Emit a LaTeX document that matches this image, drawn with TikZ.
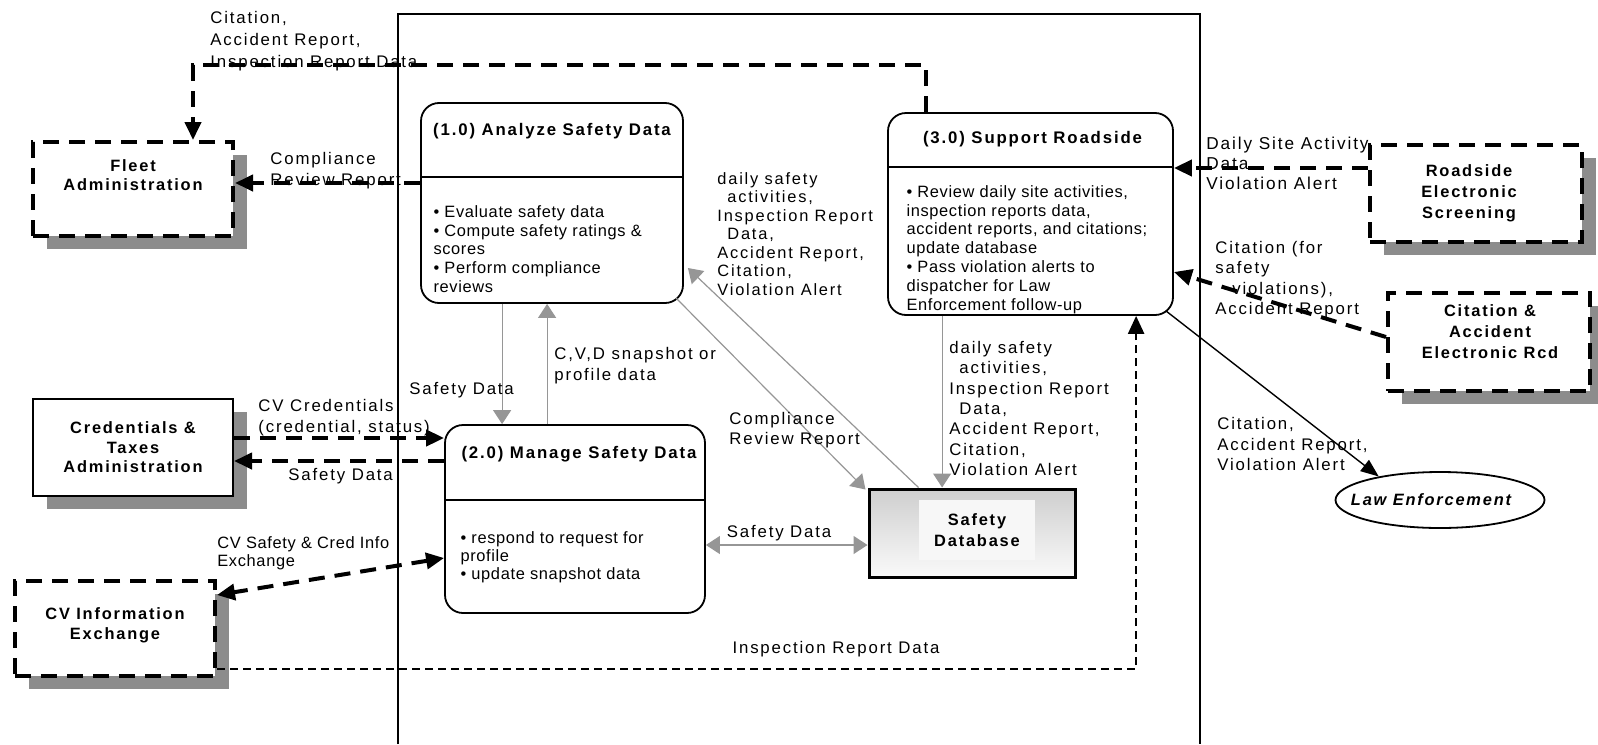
\documentclass[tikz,border=0pt]{standalone}
\usepackage{fontspec}
\setmainfont{Liberation Sans}[LetterSpace=11]
\newfontfamily\tightsans{Liberation Sans}[LetterSpace=4]
\usetikzlibrary{arrows.meta,calc,shapes.geometric,shadows}

\definecolor{shadowgray}{RGB}{140,140,140}
\definecolor{flowgray}{RGB}{150,150,150}

\tikzset{
  blk/.tip={Triangle[length=9pt,width=8pt]},
  gtip/.tip={Triangle[length=7pt,width=9pt]},
  ltip/.tip={Triangle[length=9pt,width=7pt]},
}

\begin{document}
\begin{tikzpicture}[x=0.5pt, y=-0.5pt,
  every node/.style={inner sep=0pt},
  lbl/.style={font=\fontsize{8.4}{10.2}\selectfont, align=left, anchor=north west},
  title/.style={font=\bfseries\fontsize{8.4}{10}\selectfont, align=center},
  bullets/.style={font=\tightsans\fontsize{8.2}{9.4}\selectfont, align=left, anchor=north west},
  entitytext/.style={font=\bfseries\fontsize{8.2}{9.8}\selectfont, align=center},
  shadowed/.style={drop shadow={shadow xshift=7pt, shadow yshift=-6.5pt, fill=shadowgray, opacity=1}},
  dashbox/.style={draw, fill=white, line width=2pt, dash pattern=on 8pt off 5pt, shadowed},
  solidbox/.style={draw, fill=white, line width=1pt, shadowed},
  procbox/.style={draw, fill=white, line width=0.9pt, rounded corners=9pt},
  flowdash/.style={line width=2pt, dash pattern=on 8pt off 5pt, -blk},
  thindash/.style={line width=1.2pt, dash pattern=on 4pt off 2.5pt, -blk},
  grayflow/.style={draw=flowgray, line width=0.6pt, -gtip},
  lawline/.style={line width=0.7pt, -ltip},
]
\useasboundingbox (0,0) rectangle (1598,744);

% system boundary (open at the bottom edge)
\draw[line width=0.8pt] (398,744) |- (1200,14) -- (1200,744);

% external entities
\node[dashbox, minimum width=100pt, minimum height=47pt] (fleet) at (133,189) {};
\node[entitytext, font=\bfseries\fontsize{8.2}{9.5}\selectfont] (fleettext) at (133,175) {Fleet\\Administration};

\node[solidbox, minimum width=100pt, minimum height=48.5pt] (cred) at (133,447.5) {};
\node[entitytext] (credtext) at (133,447.5) {Credentials \&\\Taxes\\Administration};

\node[dashbox, minimum width=100pt, minimum height=47.5pt] (cv) at (115,628.5) {};
\node[entitytext] (cvtext) at (115,625) {CV Information\\Exchange};

\node[dashbox, minimum width=106pt, minimum height=48.5pt] (road) at (1476,193.5) {};
\node[entitytext, font=\bfseries\fontsize{8.2}{10.5}\selectfont] (roadtext) at (1469,193) {Roadside\\Electronic\\Screening};

\node[dashbox, minimum width=101pt, minimum height=49pt] (cit) at (1489,342) {};
\node[entitytext, font=\bfseries\fontsize{8.2}{10.5}\selectfont] (cittext) at (1490,332) {Citation \&\\Accident\\Electronic Rcd};

\node[draw, ellipse, line width=0.9pt, minimum width=104.5pt, minimum height=28pt] (law) at (1440,500) {};
\node[font=\bfseries\itshape\fontsize{8.2}{10}\selectfont] (lawtext) at (1431,500) {Law Enforcement};

% data store
\node[draw, line width=1.5pt, top color=gray!38, bottom color=gray!4,
      minimum width=103pt, minimum height=44pt] (db) at (972,533) {};
\node[entitytext, font=\bfseries\fontsize{8.2}{10.5}\selectfont, fill=gray!6,
      minimum width=58pt, minimum height=30pt] (dbtext) at (977,530) {Safety\\Database};

% processes
\node[procbox, minimum width=131pt, minimum height=100pt] (p1) at (552,203) {};
\draw[line width=0.9pt] ($(p1.north west)+(0,75)$) -- ($(p1.north east)+(0,75)$);
\node[title] (p1title) at ($(p1.north)+(0,29)$) {(1.0) Analyze Safety Data};
\node[bullets] (p1text) at ($(p1.north west)+(13,103)$)
  {• Evaluate safety data\\• Compute safety ratings \&\\scores\\• Perform compliance\\reviews};

\node[procbox, minimum width=130pt, minimum height=94pt] (p2) at (575,519) {};
\draw[line width=0.9pt] ($(p2.north west)+(0,76)$) -- ($(p2.north east)+(0,76)$);
\node[title] (p2title) at ($(p2.north)+(4,30)$) {(2.0) Manage Safety Data};
\node[bullets, font=\tightsans\fontsize{8.2}{9}\selectfont] (p2text) at ($(p2.north west)+(16,107)$)
  {• respond to request for\\profile\\• update snapshot data};

\node[procbox, minimum width=142.5pt, minimum height=101pt] (p3) at (1030.5,214) {};
\draw[line width=0.9pt] ($(p3.north west)+(0,55)$) -- ($(p3.north east)+(0,55)$);
\node[title] (p3title) at ($(p3.north)+(2,27)$) {(3.0) Support Roadside};
\node[bullets] (p3text) at ($(p3.north west)+(19,73)$)
  {• Review daily site activities,\\inspection reports data,\\accident reports, and citations;\\update database\\• Pass violation alerts to\\dispatcher for Law\\Enforcement follow-up};

% external flows
\draw[flowdash] ($(p3.north west)+(39,0)$) -- ++(0,-47) -| ($(fleet.north west)+(162,0)$);
\draw[flowdash] ($(p1.west)+(0,-20)$) coordinate (crr) -- (fleet.east |- crr);
\draw[flowdash] ($(road.west)+(0,-25.5)$) coordinate (dsa) -- (p3.east |- dsa);
\draw[flowdash] ($(cit.west)+(0,-5)$) -- ($(p3.east)+(0,58)$);
\draw[lawline] ($(p3.south east)+(-8,-5)$) -- (law.159);
\draw[flowdash] ($(cred.east)+(0,-9.5)$) coordinate (cvc) -- (p2.west |- cvc);
\draw[flowdash] ($(p2.west)+(0,-58)$) coordinate (sdc) -- (cred.east |- sdc);
\draw[flowdash, blk-blk] ($(p2.west)+(0,39)$) -- ($(cv.north east)+(0,16)$);
\draw[thindash] ($(cv.south east)+(0,-9)$) -| ($(p3.south west)+(249,0)$);

% internal flows
\draw[grayflow] ($(p3.south west)+(55,0)$) coordinate (dsd) -- (db.north -| dsd);
\draw[grayflow] ($(db.north west)+(51,0)$) -- ($(p1.east)+(4,65)$);
\draw[grayflow] ($(p1.south east)+(-8,-6)$) -- ($(db.north west)+(-2,2)$);
\draw[grayflow] ($(p1.south west)+(82,0)$) coordinate (sdd) -- (p2.north -| sdd);
\draw[grayflow] ($(p2.north west)+(103,0)$) coordinate (cvd) -- (p1.south -| cvd);
\draw[grayflow, gtip-gtip] ($(p2.east)+(0,26)$) coordinate (sdh) -- (db.west |- sdh);

% flow labels
\node[lbl, font=\fontsize{8.4}{11}\selectfont] (lcar) at (210,11) {Citation,\\Accident Report,\\Inspection Report Data};
\node[lbl, font=\fontsize{8.4}{10.5}\selectfont] (lcrr) at (270,152) {Compliance\\Review Report};
\node[lbl, font=\fontsize{8.2}{9.25}\selectfont] (ldsa) at (717,172)
  {daily safety\\\hspace*{5pt}activities,\\Inspection Report\\\hspace*{5pt}Data,\\Accident Report,\\Citation,\\Violation Alert};
\node[lbl, font=\fontsize{8.4}{10.15}\selectfont] (ldsb) at (949,341)
  {daily safety\\\hspace*{5pt}activities,\\Inspection Report\\\hspace*{5pt}Data,\\Accident Report,\\Citation,\\Violation Alert};
\node[lbl, font=\fontsize{8.6}{10}\selectfont] (lsite) at (1206,137) {Daily Site Activity\\Data\\Violation Alert};
\node[lbl] (lcfs) at (1215,241) {Citation (for\\safety\\\hspace*{8.5pt}violations),\\Accident Report};
\node[lbl, font=\fontsize{8.4}{10.25}\selectfont] (llaw) at (1217,417) {Citation,\\Accident Report,\\Violation Alert};
\node[lbl, anchor=base west] (lsdv) at (409,394) {Safety Data};
\node[lbl, font=\fontsize{8.4}{10.5}\selectfont] (lcvd) at (554,347) {C,V,D snapshot or\\profile data};
\node[lbl, font=\fontsize{8.4}{10}\selectfont] (lcrg) at (729,412) {Compliance\\Review Report};
\node[lbl, font=\fontsize{8.4}{10.5}\selectfont] (lcvc) at (258,399) {CV Credentials\\(credential, status)};
\node[lbl, anchor=base west] (lsdc) at (288,480) {Safety Data};
\node[lbl, font=\tightsans\fontsize{8.2}{9}\selectfont] (lcvx) at (217,536) {CV Safety \& Cred Info\\Exchange};
\node[lbl, anchor=base] (lsdh) at (779,537) {Safety Data};
\node[lbl, anchor=base] (lird) at (836,653) {Inspection Report Data};
\end{tikzpicture}
\end{document}
